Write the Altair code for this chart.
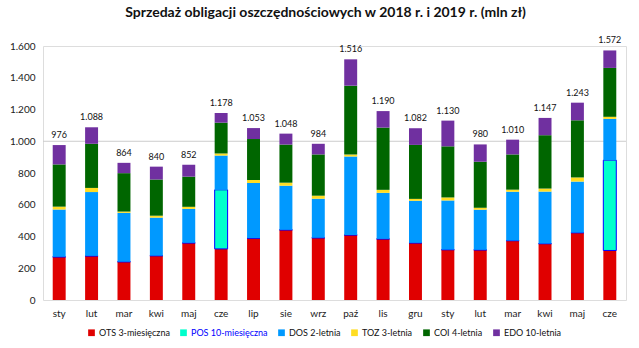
import altair as alt
import pandas as pd

months = ["sty", "lut", "mar", "kwi", "maj", "cze", "lip", "sie", "wrz", "paź", "lis", "gru",
          "sty", "lut", "mar", "kwi", "maj", "cze"]
years = ["2018"] * 12 + ["2019"] * 6

series = ["OTS 3-miesięczna", "POS 10-miesięczna", "DOS 2-letnia", "TOZ 3-letnia", "COI 4-letnia", "EDO 10-letnia"]
colors = ["#e00000", "#00ffcc", "#0099ff", "#ffdd22", "#006600", "#7030a0"]

ots = [272, 278, 241, 279, 360, 322, 390, 442, 392, 410, 385, 360, 317, 316, 374, 355, 424, 312]
pos = [0, 0, 0, 0, 0, 372, 0, 0, 0, 0, 0, 0, 0, 0, 0, 0, 0, 569]
dos = [298, 402, 308, 240, 214, 216, 347, 278, 246, 494, 290, 265, 310, 253, 308, 328, 322, 260]
toz = [18, 26, 8, 12, 13, 13, 19, 19, 19, 12, 19, 12, 19, 12, 13, 19, 26, 13]
coi = [266, 278, 242, 228, 190, 194, 258, 240, 260, 434, 392, 340, 322, 290, 222, 336, 360, 308]
edo = [122, 104, 65, 81, 75, 61, 69, 69, 67, 166, 104, 105, 162, 109, 93, 109, 111, 110]
totals = [976, 1088, 864, 840, 852, 1178, 1053, 1048, 984, 1516, 1190, 1082,
          1130, 980, 1010, 1147, 1243, 1572]
y_ticks = [0, 200, 400, 600, 800, 1000, 1200, 1400, 1600]

keys = [f"{m}|{y}" for m, y in zip(months, years)]
vals = [ots, pos, dos, toz, coi, edo]

rows = []
for i, k in enumerate(keys):
    for j, s in enumerate(series):
        rows.append({"key": k, "series": s, "order": j, "value": vals[j][i]})
df = pd.DataFrame(rows)

tot_rows = []
for i, k in enumerate(keys):
    tot_rows.append({"key": k, "top": sum(v[i] for v in vals), "total": totals[i]})
df_tot = pd.DataFrame(tot_rows)

FONT = "Lato"

x_axis = alt.Axis(labelExpr="split(datum.label, '|')[0]", labelAngle=0,
                  domain=False, ticks=False, labelPadding=8,
                  labelFontSize=10, labelColor="#222222", labelFont=FONT)
y_axis = alt.Axis(values=y_ticks,
                  labelExpr="replace(format(datum.value, ',d'), ',', '.')",
                  labelOverlap=False,
                  grid=False, domain=False, ticks=False, labelPadding=8,
                  labelFontSize=10, labelColor="#222222", labelFont=FONT)
y_scale = alt.Scale(domain=[0, 1600])
x_scale = alt.Scale(paddingInner=0.6, paddingOuter=0.3)

bars = alt.Chart(df).mark_bar().encode(
    x=alt.X("key:N", sort=keys, title=None, scale=x_scale, axis=x_axis),
    y=alt.Y("value:Q", stack="zero", title=None, scale=y_scale, axis=y_axis),
    color=alt.Color("series:N", sort=series,
                    scale=alt.Scale(domain=series, range=colors),
                    legend=alt.Legend(title=None, orient="none", direction="horizontal",
                                      legendX=44, legendY=282, columns=6,
                                      symbolType="square", symbolSize=45,
                                      symbolStrokeWidth=0,
                                      labelFontSize=9, labelFont=FONT,
                                      labelColor=alt.ExprRef("datum.label == 'POS 10-miesięczna' ? '#0000ff' : '#111111'"),
                                      columnPadding=9, labelOffset=3)),
    stroke=alt.condition("datum.series == 'POS 10-miesięczna'", alt.value("#0000ff"), alt.value(None)),
    strokeWidth=alt.value(1),
    order=alt.Order("order:Q"),
)

rule = alt.Chart(pd.DataFrame({"y": [1000]})).mark_rule(color="#cccccc", strokeWidth=1).encode(
    y=alt.Y("y:Q", title=None, scale=y_scale, axis=y_axis)
)

labels = alt.Chart(df_tot).transform_calculate(
    txt="replace(format(datum.total, ',d'), ',', '.')"
).mark_text(baseline="bottom", dy=-5, fontSize=9, font=FONT, color="#111111").encode(
    x=alt.X("key:N", sort=keys, title=None, scale=x_scale, axis=x_axis),
    y=alt.Y("top:Q", title=None, scale=y_scale, axis=y_axis),
    text="txt:N",
)

chart = alt.layer(rule, bars, labels).properties(
    width=583, height=254,
    title=alt.TitleParams("Sprzedaż obligacji oszczędnościowych w 2018 r. i 2019 r. (mln zł)",
                          fontSize=14, font=FONT, fontWeight="bold", color="#111111",
                          anchor="middle", offset=16, dx=-9),
    autosize=alt.AutoSizeParams(type="none"),
    padding={"left": 43, "top": 46, "right": 13, "bottom": 48},
).configure_view(stroke=None).configure_axisY(labelOverlap=False).configure(background="white")

chart.save("out.html", embed_options={"renderer": "svg", "actions": False})
